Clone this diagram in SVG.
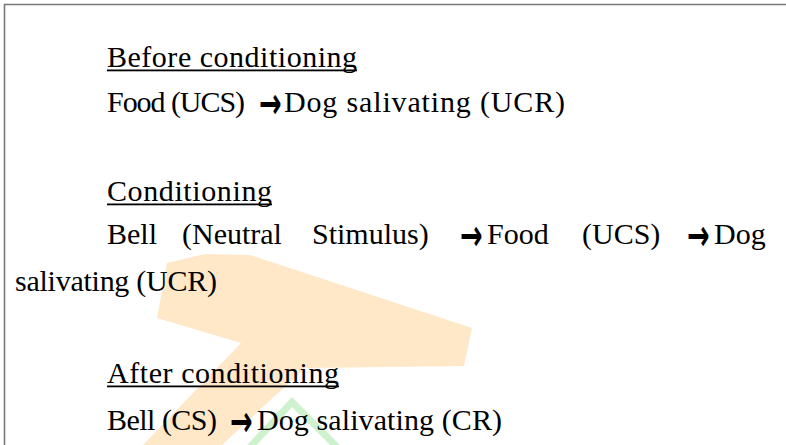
<svg xmlns="http://www.w3.org/2000/svg" width="786" height="445" viewBox="0 0 786 445">
<style>
.t{font-family:"Liberation Serif","Times New Roman",serif;font-size:30px;fill:#000}
.a{font-family:"DejaVu Sans",sans-serif;font-weight:bold;font-size:27px;fill:#000}
.u{fill:#000}
.frame{stroke:#7a7a7a;stroke-width:1.6;fill:none}
</style>
<rect width="786" height="445" fill="#fff"/>
<g id="watermark">
<polygon points="167,263 205,254 250,255 472,328 464,366 305,368 222,445 143,445 241,343 157,318" fill="#fee8c8"/>
<polyline points="250,447 292,402 337,447" fill="none" stroke="#cdf2cd" stroke-width="7"/>
</g>
<g id="frame">
<path class="frame" d="M4.5,445 V4.5 H786"/>
</g>
<g id="before">
<text class="t" x="107" y="67" textLength="250">Before conditioning</text>
<rect class="u" x="107" y="69.5" width="250" height="1.8"/>
<text class="t" x="107" y="112" textLength="138">Food (UCS)</text>
<text class="a" transform="translate(259,118) scale(1,1.6)">→</text>
<text class="t" x="284" y="112" textLength="281">Dog salivating (UCR)</text>
</g>
<g id="conditioning">
<text class="t" x="107" y="201" textLength="165">Conditioning</text>
<rect class="u" x="107" y="203.5" width="165" height="1.8"/>
<text class="t" y="244"><tspan x="107">Bell</tspan><tspan x="182">(Neutral</tspan><tspan x="312">Stimulus)</tspan></text>
<text class="a" transform="translate(460,250) scale(1,1.6)">→</text>
<text class="t" y="244"><tspan x="487">Food</tspan><tspan x="582">(UCS)</tspan></text>
<text class="a" transform="translate(687,250) scale(1,1.6)">→</text>
<text class="t" x="714" y="244">Dog</text>
<text class="t" x="15" y="291" textLength="202">salivating (UCR)</text>
</g>
<g id="after">
<text class="t" x="107" y="383" textLength="232">After conditioning</text>
<rect class="u" x="107" y="385.5" width="232" height="1.8"/>
<text class="t" x="107" y="430" textLength="110">Bell (CS)</text>
<text class="a" transform="translate(230,436) scale(1,1.6)">→</text>
<text class="t" x="257" y="430" textLength="245">Dog salivating (CR)</text>
</g>
</svg>
